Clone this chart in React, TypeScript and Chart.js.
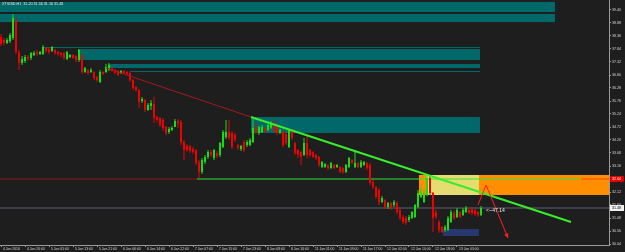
import React, { useEffect, useRef } from "react";
import { Chart, registerables } from "chart.js";
Chart.register(...registerables);

const SYMBOL = "XTIUSD,H1";

const opens = [38.32,38.20,38.08,38.16,38.28,39.00,37.72,37.28,37.36,37.52,37.48,37.60,37.72,37.64,37.64,37.88,37.84,37.76,37.80,37.72,37.68,37.68,37.44,37.52,37.60,37.56,37.40,37.60,36.92,37.00,36.92,36.92,36.72,36.52,36.92,36.92,37.00,37.08,37.00,36.96,36.88,36.96,36.92,36.88,36.60,36.32,36.20,35.76,35.80,35.40,35.56,35.64,35.12,35.08,35.00,34.72,34.52,34.60,34.72,34.96,34.92,34.12,33.96,33.96,33.84,33.80,33.32,32.92,33.32,33.52,33.72,33.48,33.68,33.60,33.92,34.32,34.52,34.48,34.40,34.00,33.84,34.12,34.00,34.00,34.12,34.68,34.48,34.52,34.68,34.60,34.68,34.80,34.72,34.48,34.52,34.44,33.92,34.60,34.08,33.80,33.72,33.60,34.08,33.80,33.72,33.60,33.52,33.12,33.12,33.20,33.08,33.20,33.12,33.12,33.08,32.92,33.12,33.40,33.12,33.28,33.12,33.20,33.28,33.20,32.52,32.32,32.20,31.72,31.80,31.52,31.68,31.60,31.68,31.40,31.12,31.08,31.00,31.08,31.12,31.52,31.92,31.72,32.00,32.68,32.08,31.32,30.92,30.72,30.60,30.60,30.92,31.28,31.12,31.32,31.20,31.32,31.40,31.44,31.40,31.32,31.20];
const highs = [38.44,38.28,38.28,38.48,39.24,39.08,37.80,37.56,37.60,37.60,37.72,37.76,37.80,37.76,38.00,37.92,37.92,37.96,37.84,37.76,37.72,37.72,37.76,37.64,37.64,37.60,37.84,37.64,37.12,37.04,37.08,36.96,36.76,37.00,36.96,37.24,37.28,37.12,37.04,37.00,37.00,37.00,36.96,36.92,36.64,36.36,36.24,35.92,35.84,35.68,35.80,35.92,35.16,35.12,35.08,34.76,34.72,34.76,35.04,35.04,35.00,34.20,34.04,34.00,33.92,33.84,33.40,33.48,33.60,33.80,33.80,33.84,33.76,34.12,34.60,35.00,35.00,34.56,34.48,34.04,34.00,34.20,34.20,34.28,35.12,34.88,34.76,34.80,34.72,34.84,34.96,35.00,34.76,34.64,34.56,34.52,34.64,34.68,34.12,33.84,33.76,34.28,34.36,33.84,33.76,33.64,33.56,33.36,33.28,33.24,33.32,33.24,33.24,33.16,33.12,33.24,33.52,33.44,33.80,33.32,33.40,33.36,33.32,33.28,32.60,32.36,32.28,31.96,31.84,31.72,31.72,31.80,31.76,31.44,31.20,31.16,31.20,31.36,31.64,32.20,32.32,32.20,32.76,32.80,32.12,31.40,31.00,30.76,30.80,31.16,31.40,31.36,31.48,31.36,31.48,31.56,31.48,31.52,31.44,31.36,31.56];
const lows = [37.96,38.00,38.04,38.08,38.20,37.64,37.00,37.20,37.28,37.36,37.40,37.56,37.56,37.60,37.60,37.68,37.64,37.72,37.60,37.56,37.52,37.40,37.40,37.48,37.44,37.32,37.32,36.84,36.88,36.80,36.88,36.60,36.52,36.48,36.80,36.88,36.96,36.92,36.84,36.76,36.84,36.84,36.80,36.52,36.20,36.12,35.48,35.68,35.32,35.36,35.40,34.88,34.92,34.72,34.56,34.40,34.44,34.56,34.76,34.68,34.00,33.40,33.72,33.68,33.64,33.20,32.68,32.84,33.24,33.44,33.52,33.40,33.48,33.52,33.88,34.24,34.20,33.84,34.12,33.80,33.76,33.72,33.92,33.96,34.08,34.44,34.40,34.48,34.48,34.56,34.64,34.52,34.40,34.44,33.92,34.00,33.88,34.20,33.60,33.48,33.20,33.56,33.48,33.52,33.48,33.40,33.12,33.08,33.08,33.00,33.04,33.04,33.08,32.88,32.84,32.88,33.08,33.24,33.08,33.08,33.08,33.16,33.00,32.40,32.24,31.84,31.60,31.68,31.44,31.44,31.40,31.52,31.24,31.00,30.84,30.80,30.92,31.04,31.08,31.48,31.88,31.68,31.96,32.00,30.52,31.04,30.48,30.48,30.52,30.56,30.88,31.00,31.08,31.08,31.16,31.28,31.24,31.20,31.16,31.12,31.16];
const closes = [38.04,38.08,38.20,38.40,39.08,37.72,37.28,37.44,37.52,37.44,37.68,37.68,37.64,37.72,37.92,37.76,37.72,37.92,37.68,37.64,37.60,37.48,37.72,37.60,37.48,37.40,37.80,36.92,37.08,36.88,37.00,36.68,36.60,36.92,36.84,37.12,37.20,36.96,36.88,36.80,36.96,36.88,36.84,36.60,36.28,36.20,35.72,35.84,35.40,35.60,35.68,35.08,35.00,34.80,34.68,34.48,34.64,34.68,34.96,34.88,34.12,33.80,33.80,33.76,33.72,33.28,32.92,33.40,33.52,33.72,33.60,33.80,33.56,34.08,34.52,34.52,34.28,33.92,34.20,33.88,33.96,33.80,34.12,34.20,34.68,34.48,34.72,34.72,34.56,34.80,34.88,34.56,34.48,34.60,34.00,34.08,34.60,34.28,33.68,33.60,33.52,34.08,33.60,33.60,33.52,33.48,33.20,33.32,33.24,33.08,33.28,33.08,33.20,32.92,32.92,33.20,33.48,33.28,33.28,33.12,33.32,33.32,33.08,32.48,32.32,31.92,31.72,31.88,31.52,31.68,31.48,31.72,31.32,31.08,30.92,30.88,31.12,31.32,31.60,32.08,32.08,32.08,32.68,32.08,31.08,31.12,30.60,30.52,30.72,31.08,31.32,31.08,31.40,31.12,31.40,31.48,31.28,31.28,31.24,31.20,31.48];

const xTickLabels = ["4 Jan 2016","4 Jan 20:00","5 Jan 05:00","5 Jan 13:00","5 Jan 21:00","6 Jan 06:00","6 Jan 14:00","6 Jan 22:00","7 Jan 07:00","7 Jan 15:00","7 Jan 23:00","8 Jan 08:00","8 Jan 16:00","11 Jan 01:00","11 Jan 09:00","11 Jan 17:00","12 Jan 02:00","12 Jan 10:00","12 Jan 18:00","13 Jan 03:00"];
const BARS_PER_LABEL = 8;
const yTickValues = [39.40,38.88,38.36,37.84,37.32,36.80,36.28,35.76,35.24,34.72,34.20,33.68,33.16,32.64,32.12,31.60,31.08,30.56,30.04];
const Y_MIN = 30.0, Y_MAX = 39.8;
const X_MIN = -0.34, X_MAX = 202.67;

// zones (bar index range, price range)
const zoneStart = [-0.34, -0.34, 13.67, 25.67, 35.67, 43, 83.33, 139.33, 141.67, 147.33];
const zoneEnd = [184.67, 184.67, 159.67, 159.67, 159.67, 159.67, 159.67, 202.67, 159.33, 159.33];
const zoneTop = [39.72, 39.24, 37.92, 37.84, 37.24, 36.96, 35.12, 32.80, 32.80, 30.64];
const zoneBottom = [39.32, 38.92, 37.88, 37.40, 37.08, 36.92, 34.48, 32.00, 32.00, 30.36];
const zoneKind = ["teal","teal","teal","teal","teal","teal","teal","orange","yellow","navy"];

const levelPrice = 32.64;
const levelSplits = [65.33, 193.33];
const redTrendX = [35, 83.33];
const redTrendY = [37.08, 35.12];
const greenTrendX = [83.33, 190];
const greenTrendY = [35.12, 30.92];
const arrowX = [159, 161.67, 169];
const arrowY = [31.60, 32.40, 30.28];
const arrowNote = "<--47.14";
const noteX = 161.67, noteY = 31.36;

const BG = "#1e1e1e";
const UP = "#12e012";
const DOWN = "#f00000";
const TEXT = "#d8d8d8";
const FONT = "'Liberation Sans', Arial, sans-serif";
const zoneColor: Record<string, string> = { teal: "#006868", orange: "#ff8f00", yellow: "#e6dd72", navy: "#26386e" };

const lastIdx = closes.length - 1;

const lineDs = (xs: number[], ys: number[], color: string, width: number, order: number) => ({
  type: "line" as const,
  data: xs.map((x, i) => ({ x, y: ys[i] })),
  borderColor: color,
  borderWidth: width,
  pointRadius: 0,
  fill: false,
  tension: 0,
  order,
});

const overlayPlugin = {
  id: "overlay",
  beforeDraw(chart: any) {
    const { ctx, width, height } = chart;
    ctx.save();
    ctx.fillStyle = BG;
    ctx.fillRect(0, 0, width, height);
    ctx.restore();
  },
  beforeDatasetsDraw(chart: any) {
    const { ctx, chartArea, scales } = chart;
    const { x, y } = scales;
    ctx.save();
    ctx.beginPath();
    ctx.rect(chartArea.left, chartArea.top, chartArea.right - chartArea.left, chartArea.bottom - chartArea.top);
    ctx.clip();
    zoneStart.forEach((s, i) => {
      const x0 = x.getPixelForValue(s);
      const x1 = x.getPixelForValue(zoneEnd[i]);
      const y0 = y.getPixelForValue(zoneTop[i]);
      const y1 = y.getPixelForValue(zoneBottom[i]);
      ctx.fillStyle = zoneColor[zoneKind[i]];
      ctx.fillRect(x0, y0, x1 - x0, y1 - y0);
    });
    ctx.restore();
  },
  afterDraw(chart: any) {
    const { ctx, chartArea, scales } = chart;
    const { x, y } = scales;
    ctx.save();
    // arrow head
    const n = arrowX.length;
    const ex = x.getPixelForValue(arrowX[n - 1]);
    const ey = y.getPixelForValue(arrowY[n - 1]);
    const px = x.getPixelForValue(arrowX[n - 2]);
    const py = y.getPixelForValue(arrowY[n - 2]);
    const ang = Math.atan2(ey - py, ex - px);
    ctx.fillStyle = "#ff2020";
    ctx.beginPath();
    ctx.moveTo(ex, ey);
    ctx.lineTo(ex - 5 * Math.cos(ang - 0.45), ey - 5 * Math.sin(ang - 0.45));
    ctx.lineTo(ex - 5 * Math.cos(ang + 0.45), ey - 5 * Math.sin(ang + 0.45));
    ctx.closePath();
    ctx.fill();
    // note
    ctx.fillStyle = "#e8e8e8";
    ctx.font = `5px ${FONT}`;
    ctx.textBaseline = "middle";
    ctx.textAlign = "left";
    ctx.fillText(arrowNote, x.getPixelForValue(noteX), y.getPixelForValue(noteY));
    // header
    ctx.font = `3.7px ${FONT}`;
    ctx.fillStyle = "#e8e8e8";
    const hdr = `${SYMBOL}  ${opens[lastIdx].toFixed(2)} ${highs[lastIdx].toFixed(2)} ${lows[lastIdx].toFixed(2)} ${closes[lastIdx].toFixed(2)}`;
    ctx.fillText(hdr, 2, 4);
    // price tags
    const tag = (price: number, fill: string, color: string) => {
      const py2 = Math.round(y.getPixelForValue(price));
      ctx.fillStyle = fill;
      ctx.fillRect(chartArea.right + 1, py2 - 3, 14, 6);
      ctx.fillStyle = color;
      ctx.font = `3.6px ${FONT}`;
      ctx.fillText(price.toFixed(2), chartArea.right + 3, py2 + 0.3);
    };
    tag(levelPrice, "#e00000", "#ffffff");
    tag(closes[lastIdx], "#f0f0f0", "#000000");
    ctx.restore();
  },
};

export default function App() {
  const ref = useRef<HTMLCanvasElement | null>(null);
  useEffect(() => {
    document.body.style.margin = "0";
    document.body.style.background = BG;
    const canvas = ref.current;
    if (!canvas) return;
    const candleColor = (c: any) => (closes[c.dataIndex] >= opens[c.dataIndex] ? UP : DOWN);
    const chart = new Chart(canvas, {
      type: "bar",
      data: {
        datasets: [
          lineDs([X_MIN, X_MAX], [closes[lastIdx], closes[lastIdx]], "#5c6275", 1, 9) as any,
          lineDs([X_MIN, levelSplits[0]], [levelPrice, levelPrice], "#8e1414", 1, 8) as any,
          lineDs([levelSplits[0], levelSplits[1]], [levelPrice, levelPrice], "#35e635", 1, 8) as any,
          lineDs([levelSplits[1], X_MAX], [levelPrice, levelPrice], "#ff3c00", 1, 8) as any,
          {
            type: "bar",
            data: lows.map((l, i) => ({ x: i, y: [l, highs[i]] })),
            backgroundColor: candleColor,
            barThickness: 1,
            grouped: false,
            borderWidth: 0,
            inflateAmount: 0,
            order: 6,
          } as any,
          {
            type: "bar",
            data: opens.map((o, i) => ({ x: i, y: [o, closes[i]] })),
            backgroundColor: candleColor,
            barThickness: 2,
            grouped: false,
            borderWidth: 0,
            minBarLength: 1,
            inflateAmount: 0,
            order: 5,
          } as any,
          lineDs(redTrendX, redTrendY, "#a81818", 1, 3) as any,
          lineDs(greenTrendX, greenTrendY, "#36ee2a", 2, 2) as any,
          lineDs(arrowX, arrowY, "#ff2020", 1, 1) as any,
        ],
      },
      options: {
        responsive: false,
        animation: false,
        devicePixelRatio: 1,
        layout: { padding: 0 },
        plugins: { legend: { display: false }, tooltip: { enabled: false } },
        scales: {
          x: {
            type: "linear",
            min: X_MIN,
            max: X_MAX,
            offset: false,
            grid: { offset: false, drawOnChartArea: false, drawTicks: true, tickLength: 2, color: "#9a9a9a" },
            border: { display: true, color: "#9a9a9a", width: 1 },
            ticks: {
              autoSkip: false,
              maxRotation: 0,
              minRotation: 0,
              align: "start",
              labelOffset: 2,
              padding: 0,
              color: TEXT,
              font: { size: 3.4, family: FONT },
              callback: (_v: any, i: number) => xTickLabels[i],
            },
            afterBuildTicks: (s: any) => {
              s.ticks = xTickLabels.map((_, k) => ({ value: k * BARS_PER_LABEL }));
            },
            afterFit: (s: any) => {
              s.height = 7;
              s.paddingLeft = 0;
              s.paddingRight = 0;
            },
          },
          y: {
            type: "linear",
            position: "right",
            min: Y_MIN,
            max: Y_MAX,
            grid: { drawOnChartArea: false, drawTicks: true, tickLength: 2, color: "#9a9a9a" },
            border: { display: true, color: "#9a9a9a", width: 1 },
            ticks: {
              padding: 1,
              color: TEXT,
              font: { size: 3.6, family: FONT },
              callback: (v: any) => Number(v).toFixed(2),
            },
            afterBuildTicks: (s: any) => {
              s.ticks = yTickValues.map((v) => ({ value: v }));
            },
            afterFit: (s: any) => {
              s.width = 16;
              s.paddingTop = 0;
              s.paddingBottom = 0;
            },
          },
        },
      } as any,
      plugins: [overlayPlugin],
    });
    return () => chart.destroy();
  }, []);
  return (
    <div style={{ position: "fixed", left: 0, top: 0, width: 625, height: 252, background: BG }}>
      <canvas ref={ref} width={625} height={252} style={{ display: "block" }} />
    </div>
  );
}
